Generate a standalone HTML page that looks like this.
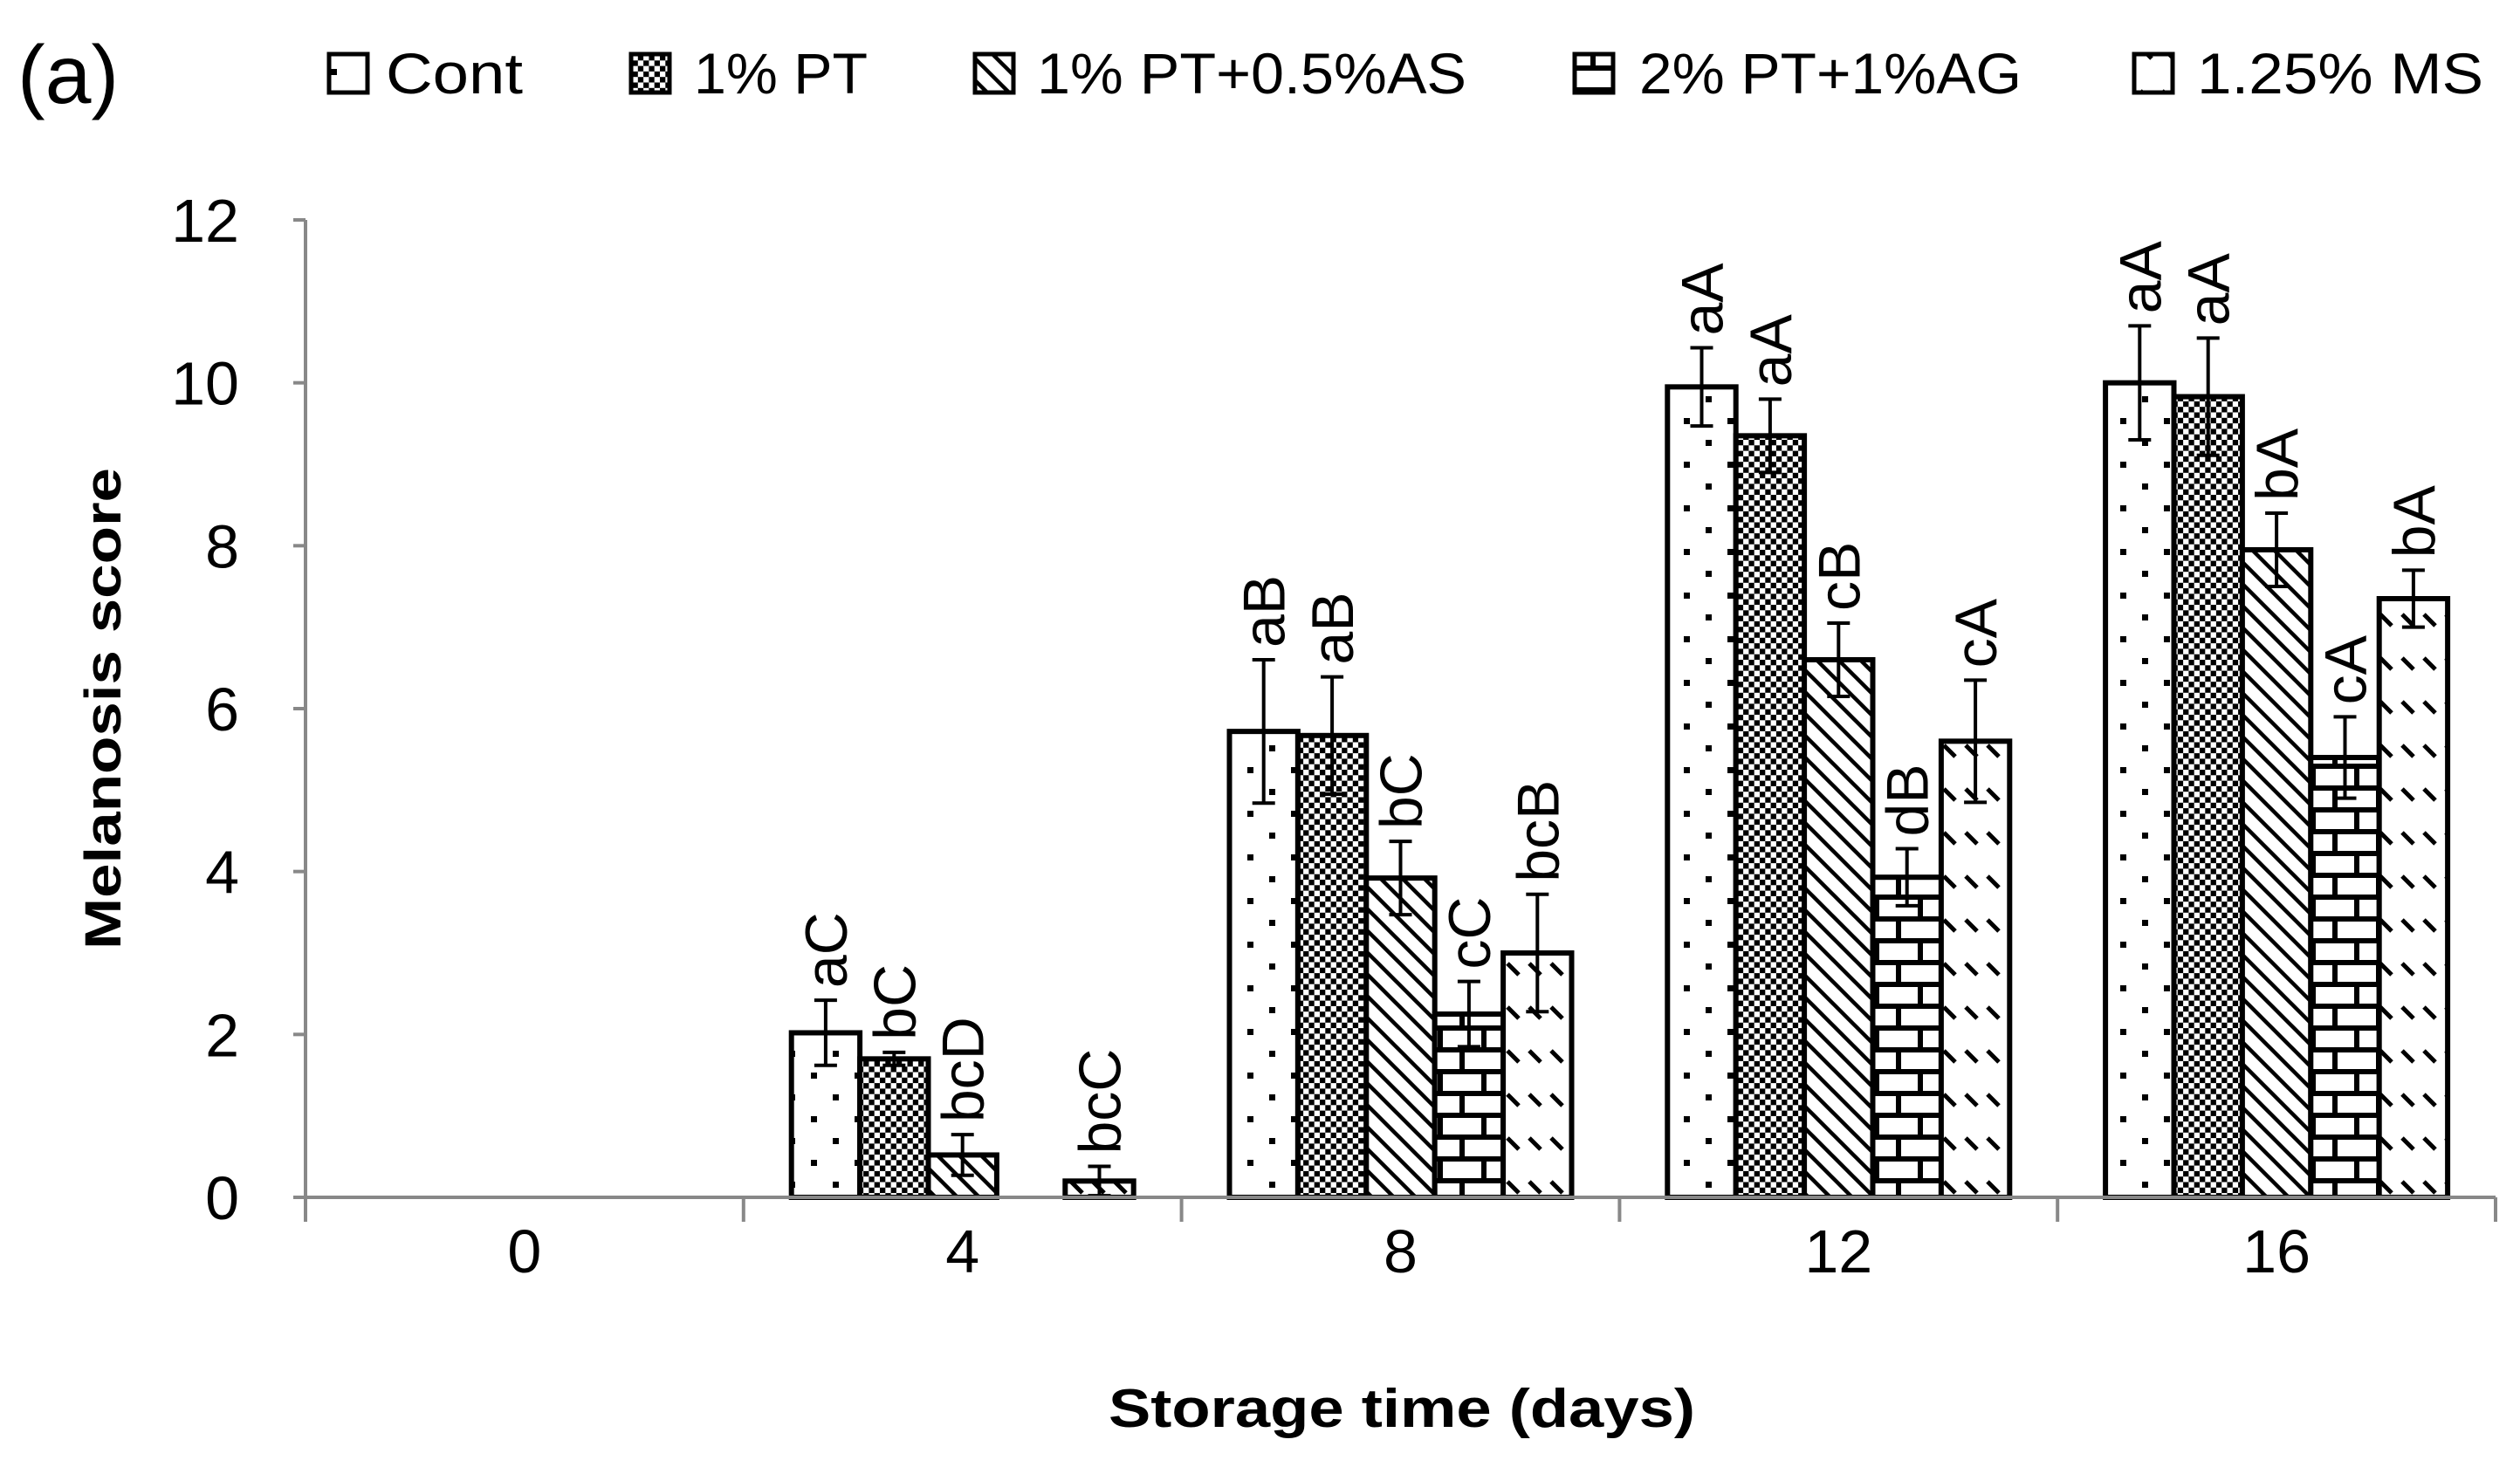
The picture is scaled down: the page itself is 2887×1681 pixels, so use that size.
<!DOCTYPE html>
<html><head><meta charset="utf-8"><style>body{margin:0;background:#fff}svg{display:block}text{font-family:"Liberation Sans",sans-serif}</style></head>
<body>
<svg id="chart" width="2887" height="1681" viewBox="0 0 2887 1681" xmlns="http://www.w3.org/2000/svg">
<defs>
<pattern id="p0" patternUnits="userSpaceOnUse" width="50" height="50"><rect width="50" height="50" fill="#fff"/><rect x="4" y="4" width="7" height="7" fill="#000"/><rect x="29" y="29" width="7" height="7" fill="#000"/></pattern>
<pattern id="p1" patternUnits="userSpaceOnUse" width="12.6" height="12.6"><rect width="12.6" height="12.6" fill="#fff"/><rect width="6.3" height="6.3" fill="#000"/><rect x="6.3" y="6.3" width="6.3" height="6.3" fill="#000"/></pattern>
<pattern id="p2" patternUnits="userSpaceOnUse" width="25" height="25"><rect width="25" height="25" fill="#fff"/><path d="M-5,-5 L30,30 M-5,20 L5,30 M20,-5 L30,5" stroke="#000" stroke-width="4.5"/></pattern>
<pattern id="p3" patternUnits="userSpaceOnUse" width="50" height="50"><rect width="50" height="50" fill="#fff"/><rect y="0" width="50" height="6" fill="#000"/><rect y="25" width="50" height="6" fill="#000"/><rect x="22" y="0" width="6" height="25" fill="#000"/><rect x="47" y="25" width="6" height="25" fill="#000"/><rect x="-3" y="25" width="6" height="25" fill="#000"/></pattern>
<pattern id="p4" patternUnits="userSpaceOnUse" width="25" height="50"><rect width="25" height="50" fill="#fff"/><path d="M2,4 L15,17" stroke="#000" stroke-width="5"/></pattern>
</defs>
<g id="plot"></g>
</svg>
<script>
const categories = ["0","4","8","12","16"];
const seriesNames = ["Cont","1% PT","1% PT+0.5%AS","2% PT+1%AG","1.25% MS"];
const valCont = [0, 2.02, 5.72, 9.95, 10.0];
const valPT   = [0, 1.70, 5.67, 9.35, 9.83];
const valAS   = [0, 0.52, 3.92, 6.60, 7.95];
const valAG   = [0, 0.00, 2.25, 3.93, 5.40];
const valMS   = [0, 0.20, 3.00, 5.60, 7.35];
const errCont = [0, 0.40, 0.88, 0.48, 0.70];
const errPT   = [0, 0.08, 0.72, 0.45, 0.72];
const errAS   = [0, 0.25, 0.45, 0.45, 0.45];
const errAG   = [0, 0.00, 0.40, 0.35, 0.50];
const errMS   = [0, 0.18, 0.72, 0.75, 0.35];
const lblCont = ["", "aC", "aB", "aA", "aA"];
const lblPT   = ["", "bC", "aB", "aA", "aA"];
const lblAS   = ["", "bcD", "bC", "cB", "bA"];
const lblAG   = ["", "", "cC", "dB", "cA"];
const lblMS   = ["", "bcC", "bcB", "cA", "bA"];
const yTicks = [0,2,4,6,8,10,12];

const values=[valCont,valPT,valAS,valAG,valMS];
const errs=[errCont,errPT,errAS,errAG,errMS];
const lbls=[lblCont,lblPT,lblAS,lblAG,lblMS];
const NS="http://www.w3.org/2000/svg";
const g=document.getElementById('plot');
const X0=350,X1=2859,Y0=1372,Y12=252;
const catW=(X1-X0)/categories.length, barW=78.4;
const y=v=>Y0-(v/12)*(Y0-Y12);
const xc=i=>X0+catW*(i+0.5);
function el(t,a,txt){const e=document.createElementNS(NS,t);for(const k in a)e.setAttribute(k,a[k]);if(txt!==undefined)e.textContent=txt;g.appendChild(e);return e;}

let ax=el('line',{x1:X0,y1:Y12,x2:X0,y2:Y0,stroke:'#888','stroke-width':4});


yTicks.forEach(v=>{
  const t=el('line',{x1:X0-14,y1:y(v),x2:X0,y2:y(v),stroke:'#888','stroke-width':4});
  
  
  const l=el('text',{x:274,y:y(v)+25,'text-anchor':'end','font-size':70},String(v));
  
  
});
categories.forEach((c,i)=>{
  const l=el('text',{x:xc(i),y:1458,'text-anchor':'middle','font-size':70},c);
  
  
});
for(let i=0;i<=categories.length;i++){
  const t=el('line',{x1:X0+catW*i,y1:Y0,x2:X0+catW*i,y2:Y0+28,stroke:'#888','stroke-width':4});
  
  
}
values.forEach((vals,s)=>{
  vals.forEach((v,i)=>{
    const bx=xc(i)-2.5*barW+s*barW;
    if(v>0){
      const r=el('rect',{x:bx,y:y(v),width:barW,height:Y0-y(v),fill:'url(#p'+s+')',stroke:'#000','stroke-width':6});
      
      
    }
    const e=errs[s][i];
    const cx=bx+barW/2;
    if(v>0||e>0){
      const eb=el('path',{d:`M${cx},${y(v-e)}V${y(v+e)}M${cx-13},${y(v-e)}h26M${cx-13},${y(v+e)}h26`,stroke:'#000','stroke-width':4,fill:'none'});
      
      
    }
    const txt=lbls[s][i];
    if(txt){
      const ly=y(v+e)-14, lx=cx+24;
      const t=el('text',{x:lx,y:ly,'font-size':68,transform:`rotate(-90 ${lx} ${ly})`},txt);
      
      
    }
  });
});
el('line',{x1:X0,y1:Y0,x2:X1,y2:Y0,stroke:'#888','stroke-width':4});
let yt=el('text',{x:138,y:812,'text-anchor':'middle','font-size':58,'font-weight':'bold',transform:'rotate(-90 138 812)',textLength:552,lengthAdjust:'spacingAndGlyphs'},'Melanosis score');


let xt=el('text',{x:1606,y:1635,'text-anchor':'middle','font-size':62,'font-weight':'bold',textLength:672,lengthAdjust:'spacingAndGlyphs'},'Storage time (days)');


let pa=el('text',{x:20,y:118,'font-size':95},'(a)');


const legBox=[377,723,1117,1804,2445];
const legTxt=[442,795,1188,1878,2517];
const legLen=[157,199,492,438,328];
seriesNames.forEach((n,s)=>{
  const b=el('rect',{x:legBox[s],y:62,width:44,height:44,fill:'url(#p'+s+')',stroke:'#000','stroke-width':5});
  
  
  const t=el('text',{x:legTxt[s],y:107,'font-size':66,textLength:legLen[s],lengthAdjust:'spacingAndGlyphs'},n);
  
  
});
</script>
</body></html>
